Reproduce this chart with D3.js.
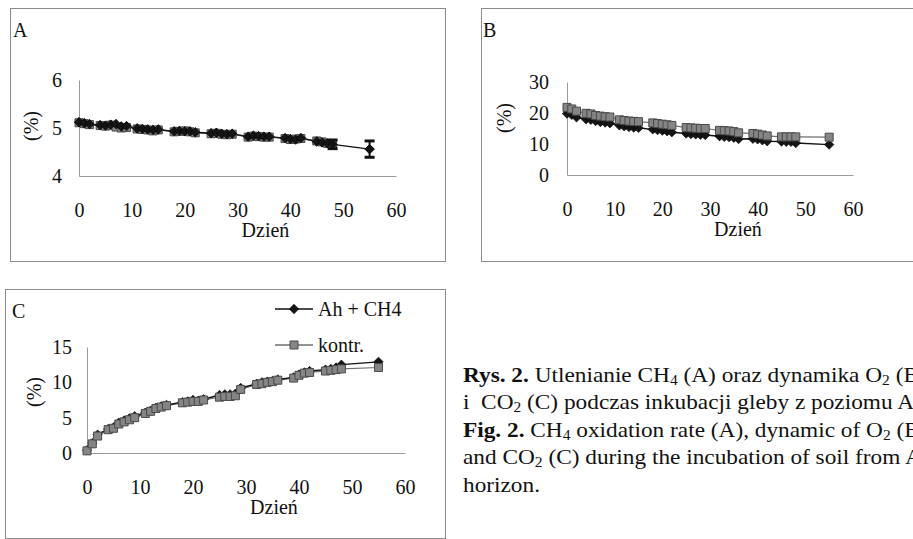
<!DOCTYPE html>
<html>
<head>
<meta charset="utf-8">
<script src="https://cdn.jsdelivr.net/npm/d3@7/dist/d3.min.js"></script>
<style>
    html, body {
        margin: 0;
        padding: 0;
        background: #fff;
    }
    svg {
        display: block;
    }
    .frame {
        fill: none;
        stroke: #8c8c8c;
        stroke-width: 1px;
    }
    .axis path {
        stroke: #9a9a9a;
    }
</style>
</head>
<body>
<svg id="svg" width="913" height="539" font-family="Liberation Serif, Times New Roman, serif"></svg>
<script>
    // measurement days (same for all three panels)
    const days = [0, 1, 2, 4, 5, 6, 7, 8, 9, 11, 12, 13, 14, 15, 18, 19, 20, 21, 22,
        25, 26, 27, 28, 29, 32, 33, 34, 35, 36, 39, 40, 41, 42, 45, 46, 47, 48, 55];

    // A - CH4 (%)
    const aCH4 = [5.12, 5.10, 5.08, 5.06, 5.05, 5.07, 5.08, 5.03, 5.04, 4.99, 4.98, 4.97, 4.96, 4.97,
        4.93, 4.94, 4.93, 4.93, 4.91, 4.89, 4.90, 4.88, 4.87, 4.88, 4.82, 4.84, 4.83, 4.82, 4.82,
        4.79, 4.77, 4.76, 4.79, 4.72, 4.70, 4.68, 4.66, 4.56];
    const aKontr = [5.11, 5.09, 5.07, 5.05, 5.04, 5.06, 5.02, 5.00, 5.01, 4.98, 4.97, 4.96, 4.94, 4.96,
        4.92, 4.93, 4.94, 4.92, 4.90, 4.88, 4.89, 4.87, 4.86, 4.87, 4.81, 4.83, 4.82, 4.81, 4.81,
        4.78, 4.76, 4.77, 4.78, 4.73, 4.71, 4.68, 4.66, null];
    const aErrDays = [48, 55];
    const aErr = [0.09, 0.17];

    // B - O2 (%)
    const bCH4 = [19.8, 19.4, 18.6, 18.0, 17.8, 17.4, 17.1, 16.9, 16.7, 16.0, 15.7, 15.5, 15.3, 15.2,
        14.7, 14.5, 14.3, 14.1, 13.8, 13.4, 13.2, 13.1, 13.0, 12.9, 12.5, 12.3, 12.2, 12.0, 11.6,
        11.7, 11.5, 11.2, 10.9, 10.8, 10.7, 10.7, 10.3, 9.8];
    const bKontr = [21.8, 21.3, 20.6, 19.9, 19.7, 19.2, 19.0, 18.8, 18.7, 17.8, 17.6, 17.4, 17.3, 17.2,
        16.8, 16.6, 16.4, 16.2, 16.0, 15.3, 15.2, 15.1, 15.0, 15.0, 14.4, 14.3, 14.2, 14.0, 13.6,
        13.4, 13.2, 12.9, 12.6, 12.3, 12.3, 12.3, 12.3, 12.2];

    // C - CO2 (%)
    const cCH4 = [0.4, 1.4, 2.6, 3.4, 3.6, 4.3, 4.6, 4.9, 5.2, 5.7, 6.0, 6.4, 6.6, 6.8,
        7.2, 7.3, 7.5, 7.4, 7.6, 8.2, 8.3, 8.3, 8.4, 9.2, 9.8, 10.0, 10.1, 10.2, 10.4,
        10.7, 11.1, 11.4, 11.6, 11.8, 11.9, 12.1, 12.5, 12.9];
    const cKontr = [0.3, 1.3, 2.4, 3.3, 3.5, 4.1, 4.4, 4.7, 5.0, 5.6, 5.9, 6.3, 6.5, 6.7,
        7.1, 7.2, 7.3, 7.3, 7.5, 7.9, 8.0, 8.0, 8.1, 9.0, 9.7, 9.8, 10.0, 10.1, 10.3,
        10.6, 11.0, 11.3, 11.4, 11.6, 11.7, 11.8, 11.9, 12.1];

    const xTicks = [0, 10, 20, 30, 40, 50, 60];
    const seriesNames = ['Ah + CH4', 'kontr.'];

    const FONT = 'Liberation Serif, Times New Roman, serif';
    const svg = d3.select('#svg');
    svg.append('rect').attr('width', 913).attr('height', 539).attr('fill', '#fff');

    const diamond = d3.symbol(d3.symbolSquare, 44);
    const square = d3.symbol(d3.symbolSquare, 64);

    function drawMarkers(g, pts, kind) {
        if (kind === 'diamond') {
            g.selectAll(null).data(pts).enter().append('path')
                .attr('d', diamond)
                .attr('transform', d => 'translate(' + d[0] + ',' + d[1] + ') rotate(45)')
                .attr('fill', '#151515')
                .attr('stroke', '#000')
                .attr('stroke-width', 0.6);
        } else {
            g.selectAll(null).data(pts).enter().append('path')
                .attr('d', square)
                .attr('transform', d => 'translate(' + d[0] + ',' + d[1] + ')')
                .attr('fill', '#858585')
                .attr('stroke', '#4a4a4a')
                .attr('stroke-width', 1);
        }
    }

    function styleAxis(s) {
        s.attr('font-family', FONT).attr('font-size', 20);
        s.selectAll('text').attr('fill', '#111');
    }

    function drawPanel(p) {
        const g = svg.append('g');

        g.append('rect').attr('class', 'frame')
            .attr('x', p.box[0] + 0.5).attr('y', p.box[1] + 0.5)
            .attr('width', p.box[2]).attr('height', p.box[3]);

        g.append('text')
            .attr('x', p.letter[0]).attr('y', p.letter[1])
            .attr('font-size', 20).attr('fill', '#111')
            .text(p.name);

        const x = d3.scaleLinear().domain([0, 60]).range(p.xRange);
        const y = d3.scaleLinear().domain(p.yDomain).range(p.yRange);

        g.append('g').attr('class', 'axis')
            .attr('transform', 'translate(0,' + p.yRange[0] + ')')
            .call(d3.axisBottom(x).tickValues(xTicks).tickFormat(d3.format('d'))
                .tickSize(0).tickPadding(27))
            .call(styleAxis);

        g.append('g').attr('class', 'axis')
            .attr('transform', 'translate(' + p.xRange[0] + ',0)')
            .call(d3.axisLeft(y).tickValues(p.yTicks).tickFormat(d3.format('d'))
                .tickSize(0).tickPadding(p.yPad))
            .call(styleAxis);

        g.append('text')
            .attr('x', (p.xRange[0] + p.xRange[1]) / 2 + 28)
            .attr('y', p.yRange[0] + 61)
            .attr('text-anchor', 'middle')
            .attr('font-size', 20).attr('fill', '#111')
            .text('Dzień');

        g.append('text')
            .attr('transform', 'translate(' + p.unit[0] + ',' + p.unit[1] + ') rotate(-90)')
            .attr('text-anchor', 'middle')
            .attr('dy', '0.35em')
            .attr('font-size', 20).attr('fill', '#111')
            .text('(%)');

        const line = d3.line()
            .defined(d => d[1] != null)
            .x(d => x(d[0]))
            .y(d => y(d[1]));

        const kData = days.map((d, i) => [d, p.kontr[i]]);
        const cData = days.map((d, i) => [d, p.ch4[i]]);

        g.append('path').datum(kData)
            .attr('d', line).attr('fill', 'none')
            .attr('stroke', '#6f6f6f').attr('stroke-width', 1.2);
        g.append('path').datum(cData)
            .attr('d', line).attr('fill', 'none')
            .attr('stroke', '#111').attr('stroke-width', 1.4);

        drawMarkers(g, cData.map(d => [x(d[0]), y(d[1])]), 'diamond');
        drawMarkers(g, kData.filter(d => d[1] != null).map(d => [x(d[0]), y(d[1])]), 'square');
        if (p.ch4OnTop) {
            drawMarkers(g, cData.map(d => [x(d[0]), y(d[1])]), 'diamond');
        }

        // error bars drawn over the markers
        if (p.errDays) {
            const eb = g.append('g').attr('stroke', '#111');
            p.errDays.forEach((d, i) => {
                const v = p.ch4[days.indexOf(d)];
                const e = p.err[i];
                eb.append('line').attr('x1', x(d)).attr('x2', x(d))
                    .attr('y1', y(v + e)).attr('y2', y(v - e)).attr('stroke-width', 2);
                [v + e, v - e].forEach(t => {
                    eb.append('line').attr('x1', x(d) - 5).attr('x2', x(d) + 5)
                        .attr('y1', y(t)).attr('y2', y(t)).attr('stroke-width', 3);
                });
            });
        }
        return g;
    }

    drawPanel({
        name: 'A', box: [10, 8, 435, 253], letter: [13, 37],
        xRange: [79, 396], yRange: [176, 80], yDomain: [4, 6], yTicks: [4, 5, 6], yPad: 17,
        unit: [31, 126], ch4: aCH4, kontr: aKontr, errDays: aErrDays, err: aErr, ch4OnTop: true
    });

    drawPanel({
        name: 'B', box: [481, 8, 440, 253], letter: [483, 37],
        xRange: [567, 853], yRange: [175, 82], yDomain: [0, 30], yTicks: [0, 10, 20, 30], yPad: 18,
        unit: [504, 118], ch4: bCH4, kontr: bKontr
    });

    const gC = drawPanel({
        name: 'C', box: [5, 289, 440, 249], letter: [12, 318],
        xRange: [87, 405], yRange: [453, 347], yDomain: [0, 15], yTicks: [0, 5, 10, 15], yPad: 15,
        unit: [34, 392], ch4: cCH4, kontr: cKontr
    });

    // legend (panel C)
    const legend = gC.append('g');
    seriesNames.forEach((name, i) => {
        const ly = 309 + i * 36;
        legend.append('line')
            .attr('x1', 275).attr('x2', 313).attr('y1', ly).attr('y2', ly)
            .attr('stroke', i === 0 ? '#111' : '#6f6f6f').attr('stroke-width', 1.4);
        drawMarkers(legend, [[294, ly]], i === 0 ? 'diamond' : 'square');
        legend.append('text')
            .attr('x', 318).attr('y', ly).attr('dy', '0.35em')
            .attr('font-size', 20).attr('fill', '#111')
            .text(name);
    });

    // figure caption, subscripts as tspans; the scan is a bit wider than the font
    const caption = [
        [['Rys. 2.', 'b'], [' Utlenianie CH'], ['4', 's'], [' (A) oraz dynamika O'], ['2', 's'], [' (B)']],
        [['i  CO'], ['2', 's'], [' (C) podczas inkubacji gleby z poziomu Ah']],
        [['Fig. 2.', 'b'], [' CH'], ['4', 's'], [' oxidation rate (A), dynamic of O'], ['2', 's'], [' (B)']],
        [['and CO'], ['2', 's'], [' (C) during the incubation of soil from Ah']],
        [['horizon.']]
    ];
    const cap = svg.append('g')
        .attr('transform', 'translate(463,0) scale(1.11,1)')
        .attr('font-size', 21).attr('fill', '#111');
    caption.forEach((parts, i) => {
        const t = cap.append('text')
            .attr('x', 0).attr('y', 382 + i * 27.5)
            .attr('xml:space', 'preserve');
        parts.forEach(pt => {
            const ts = t.append('tspan').text(pt[0]);
            if (pt[1] === 'b') ts.attr('font-weight', 'bold');
            if (pt[1] === 's') ts.attr('font-size', 14).attr('baseline-shift', '-22%');
        });
    });
</script>
</body>
</html>
